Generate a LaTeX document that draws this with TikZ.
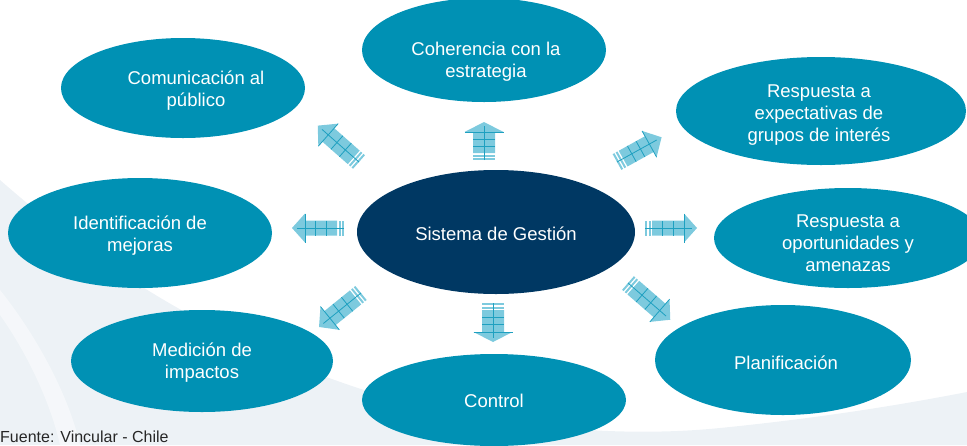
\documentclass[tikz,border=0pt]{standalone}
\usepackage{fontspec}
\setmainfont{Liberation Sans}
\usetikzlibrary{shapes.geometric}
\definecolor{teal1}{RGB}{0,145,180}
\definecolor{navy1}{RGB}{0,56,99}
\definecolor{arrfillc}{RGB}{125,202,222}
\definecolor{arrlinec}{RGB}{30,160,192}
\definecolor{bggray}{RGB}{237,242,246}
\tikzset{
  bubble/.style={ellipse, fill=teal1, inner sep=0pt},
  mainbubble/.style={bubble, fill=navy1},
  btext/.style={text=white, inner sep=0pt, align=center,
    font=\fontsize{18.5}{22}\selectfont},
  arrfill/.style={fill=arrfillc},
  arrline/.style={draw=arrlinec, line width=0.8pt},
}
% #1 x, #2 y, #3 angle, #4 length, #5 body half width, #6 head half width, #7 head length
\newcommand\myblockarrow[7]{%
\begin{scope}[shift={(#1,#2)},rotate=#3]
  \fill[arrfill] (0,-#5) rectangle (2,#5);
  \fill[arrfill] (3.5,-#5) rectangle (5.5,#5);
  \fill[arrfill] (7,-#5) -- ({#4-#7},-#5) -- ({#4-#7},-#6) -- (#4,0) -- ({#4-#7},#6) -- ({#4-#7},#5) -- (7,#5) -- cycle;
  \draw[arrline] (0,0) -- ({#4-#7*0.4},0);
  \draw[arrline] ({7+(#4-#7-7)*0.33},-#5) -- ({7+(#4-#7-7)*0.33},#5);
  \draw[arrline] ({7+(#4-#7-7)*0.66},-#5) -- ({7+(#4-#7-7)*0.66},#5);
  \draw[arrline] ({#4-#7},-#6) -- ({#4-#7},#6);
\end{scope}}
\begin{document}
\begin{tikzpicture}[x=1pt,y=1pt]
\useasboundingbox (0,0) rectangle (967,-445);
\clip (0,0) rectangle (967,-445);
% background swoosh
\fill[bggray] (0,-180) .. controls (80,-250) and (200,-340) .. (380,-395)
  .. controls (500,-428) and (620,-438) .. (720,-428)
  .. controls (820,-418) and (900,-405) .. (967,-392) -- (967,-445) -- (0,-445) -- cycle;
\fill[white, opacity=0.45] (0,-290) .. controls (40,-340) and (70,-400) .. (80,-445) -- (60,-445) .. controls (50,-400) and (25,-350) .. (0,-315) -- cycle;
% ellipses
\node[mainbubble, minimum width=278pt, minimum height=124pt] (sys) at (496,-232) {};
\node[bubble, minimum width=244pt, minimum height=100pt] (com) at (183,-88) {};
\node[bubble, minimum width=244pt, minimum height=104pt] (coh) at (484,-50) {};
\node[bubble, minimum width=290pt, minimum height=108pt] (exp) at (821,-111) {};
\node[bubble, minimum width=264pt, minimum height=110pt] (ide) at (140,-233) {};
\node[bubble, minimum width=268pt, minimum height=100pt] (opo) at (848,-238) {};
\node[bubble, minimum width=262pt, minimum height=102pt] (med) at (202,-361) {};
\node[bubble, minimum width=264pt, minimum height=92pt] (con) at (494,-400) {};
\node[bubble, minimum width=256pt, minimum height=110pt] (pla) at (783,-360) {};
% texts
\node[btext] (tsys) at ([yshift=-2pt]sys.center) {Sistema de Gestión};
\node[btext] (tcom) at ([xshift=13pt,yshift=-3pt]com.center) {Comunicación al\\público};
\node[btext] (tcoh) at ([xshift=2pt,yshift=-12pt]coh.center) {Coherencia con la\\estrategia};
\node[btext] (texp) at ([xshift=-2pt,yshift=-4pt]exp.center) {Respuesta a\\expectativas de\\grupos de interés};
\node[btext] (tide) at ([yshift=-3pt]ide.center) {Identificación de\\mejoras};
\node[btext] (topo) at ([yshift=-5pt]opo.center) {Respuesta a\\oportunidades y\\amenazas};
\node[btext] (tmed) at ([yshift=-2pt]med.center) {Medición de\\impactos};
\node[btext] (tcon) at ([yshift=-1pt]con.center) {Control};
\node[btext] (tpla) at ([xshift=3pt,yshift=-3pt]pla.center) {Planificación};
% block arrows
\myblockarrow{484}{-160}{90}{38}{11}{19.5}{10}
\myblockarrow{493}{-303}{-90}{39}{11}{19.5}{10}
\myblockarrow{344}{-228}{180}{52}{7.5}{14.5}{13}
\myblockarrow{645}{-228}{0}{52}{7.5}{14.5}{13}
\myblockarrow{359}{-162}{138.6}{55}{9}{15}{14}
\myblockarrow{617}{-162}{29}{51}{9}{15}{14}
\myblockarrow{361}{-293}{219}{54}{9}{15}{14}
\myblockarrow{628}{-283}{-41}{56}{9}{15}{14}
% source
\node[anchor=base west, inner sep=0pt, text=black!85, font=\fontsize{16}{19}\selectfont] (src) at (0,-442.5) {Fuente: Vincular - Chile};
\end{tikzpicture}
\end{document}
